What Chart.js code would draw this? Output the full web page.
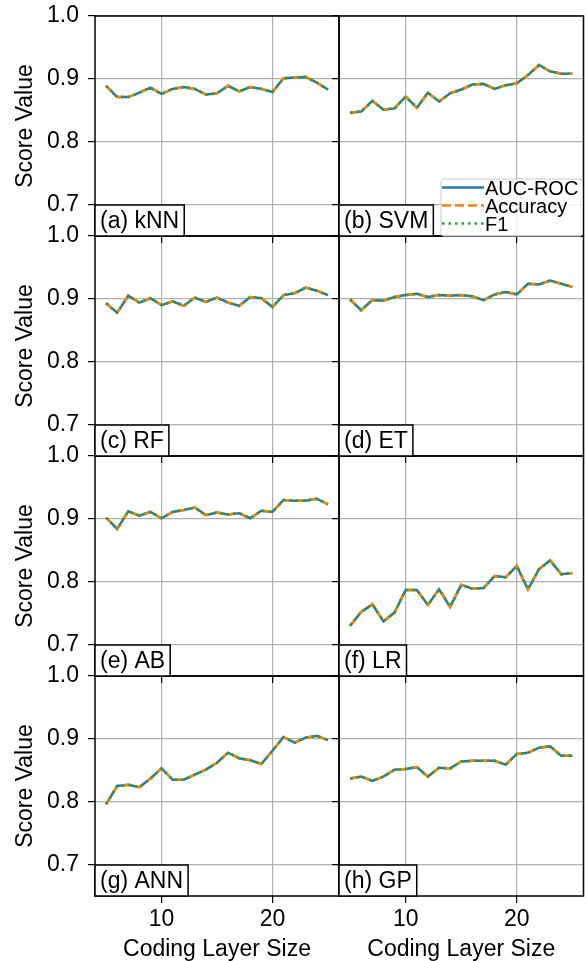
<!DOCTYPE html>
<html>
<head>
<meta charset="utf-8">
<script src="https://cdn.jsdelivr.net/npm/chart.js@4.4.1/dist/chart.umd.min.js"></script>
<style>
  html, body { margin: 0; padding: 0; background: #fff; }
  #fig { position: relative; width: 586px; height: 961px; overflow: hidden; }
  #fig canvas { position: absolute; }
</style>
</head>
<body>
<div id="fig"></div>
<script>
// Coding layer sizes (x axis) and tick values
const layerSizes = [5, 6, 7, 8, 9, 10, 11, 12, 13, 14, 15, 16, 17, 18, 19, 20, 21, 22, 23, 24, 25];
const xTicks = [10, 20];
const yTicks = [0.7, 0.8, 0.9, 1.0];
const metricNames = ['AUC-ROC', 'Accuracy', 'F1'];

// Scores per classifier (AUC-ROC, accuracy and F1 coincide)
const knnScores = [0.889, 0.871, 0.871, 0.878, 0.886, 0.876, 0.884, 0.887, 0.884, 0.875, 0.877, 0.889, 0.880, 0.887, 0.884, 0.879, 0.901, 0.902, 0.903, 0.894, 0.883];
const svmScores = [0.846, 0.848, 0.865, 0.851, 0.853, 0.872, 0.854, 0.878, 0.864, 0.877, 0.883, 0.891, 0.892, 0.884, 0.890, 0.893, 0.906, 0.922, 0.912, 0.908, 0.908];
const rfScores  = [0.893, 0.878, 0.905, 0.894, 0.901, 0.890, 0.896, 0.889, 0.902, 0.895, 0.902, 0.894, 0.889, 0.903, 0.901, 0.887, 0.906, 0.909, 0.918, 0.913, 0.906];
const etScores  = [0.899, 0.882, 0.898, 0.897, 0.903, 0.906, 0.908, 0.903, 0.906, 0.905, 0.906, 0.904, 0.898, 0.907, 0.911, 0.907, 0.924, 0.923, 0.929, 0.924, 0.919];
const abScores  = [0.902, 0.884, 0.912, 0.905, 0.911, 0.901, 0.911, 0.914, 0.918, 0.906, 0.910, 0.907, 0.909, 0.901, 0.913, 0.911, 0.930, 0.929, 0.929, 0.932, 0.923];
const lrScores  = [0.730, 0.752, 0.764, 0.737, 0.751, 0.787, 0.787, 0.763, 0.788, 0.760, 0.795, 0.789, 0.790, 0.809, 0.807, 0.825, 0.788, 0.820, 0.834, 0.812, 0.814];
const annScores = [0.796, 0.825, 0.827, 0.823, 0.837, 0.853, 0.835, 0.835, 0.843, 0.851, 0.862, 0.878, 0.869, 0.866, 0.860, 0.881, 0.903, 0.894, 0.902, 0.905, 0.898];
const gpScores  = [0.837, 0.840, 0.833, 0.840, 0.851, 0.852, 0.855, 0.840, 0.854, 0.853, 0.864, 0.865, 0.865, 0.865, 0.859, 0.876, 0.878, 0.886, 0.888, 0.873, 0.873];

const panelLabels = ['(a) kNN', '(b) SVM', '(c) RF', '(d) ET', '(e) AB', '(f) LR', '(g) ANN', '(h) GP'];
const panelScores = [knnScores, svmScores, rfScores, etScores, abScores, lrScores, annScores, gpScores];

const FONT = '"Liberation Sans", Arial, Helvetica, sans-serif';
Chart.defaults.font.family = FONT;
Chart.defaults.color = '#000';

// Figure layout
const ROW_TOPS = [16, 236, 456, 676];
const ROW_H = 220;
const FIG_H = 961;

const lineStyles = [
  { color: '#1f77b4', dash: [], order: 3 },
  { color: '#ff7f0e', dash: [9, 4], order: 2 },
  { color: '#2ca02c', dash: [2.5, 4], order: 1 }
];

// Black frame around the plot area plus the "(x) NAME" tag in the lower-left corner
const panelFrame = {
  id: 'panelFrame',
  afterDatasetsDraw(chart, args, opts) {
    const { ctx, chartArea: a } = chart;
    ctx.save();
    ctx.strokeStyle = '#000';
    ctx.lineWidth = 1.5;
    ctx.strokeRect(a.left, a.top, a.right - a.left, a.bottom - a.top);

    ctx.font = '23px ' + FONT;
    const w = ctx.measureText(opts.text).width + 10;
    const h = 31;
    ctx.fillStyle = '#fff';
    ctx.fillRect(a.left, a.bottom - h, w, h);
    ctx.strokeRect(a.left, a.bottom - h, w, h);
    ctx.fillStyle = '#000';
    ctx.textBaseline = 'middle';
    ctx.fillText(opts.text, a.left + 5, a.bottom - h / 2 + 1);
    ctx.restore();
  }
};

// Legend box drawn only on the SVM panel
const metricLegend = {
  id: 'metricLegend',
  afterDraw(chart) {
    const { ctx, chartArea: a } = chart;
    const x0 = a.left + 102, y0 = a.bottom - 57;
    const x1 = a.right - 1, y1 = a.bottom;
    ctx.save();
    ctx.fillStyle = 'rgba(255,255,255,0.8)';
    ctx.strokeStyle = 'rgba(204,204,204,1)';
    ctx.lineWidth = 1;
    ctx.beginPath();
    ctx.roundRect(x0, y0, x1 - x0, y1 - y0, 3);
    ctx.fill();
    ctx.stroke();

    ctx.font = '20px ' + FONT;
    ctx.textBaseline = 'middle';
    chart.data.datasets.forEach((ds, i) => {
      const y = y0 + 9.5 + i * 18;
      ctx.strokeStyle = ds.borderColor;
      ctx.lineWidth = ds.borderWidth;
      ctx.setLineDash(ds.borderDash);
      ctx.beginPath();
      ctx.moveTo(x0 + 1, y - 1);
      ctx.lineTo(x0 + 43, y - 1);
      ctx.stroke();
      ctx.setLineDash([]);
      ctx.fillStyle = '#000';
      ctx.fillText(ds.label, x0 + 44, y + 1);
    });
    ctx.restore();
  }
};

// Fix an axis to a given thickness and drop the extra padding Chart.js
// reserves for labels sitting on the plot edges
function fixAxis(size, horizontal) {
  return s => {
    if (horizontal) s.height = size; else s.width = size;
    s.paddingTop = 0;
    s.paddingBottom = 0;
    s.paddingLeft = 0;
    s.paddingRight = 0;
  };
}

function makePanel(index) {
  const row = Math.floor(index / 2);
  const col = index % 2;
  const isLeft = col === 0;
  const isBottom = row === 3;

  const top = ROW_TOPS[row];
  const canvasTop = top - 14;
  const canvasBottom = isBottom ? FIG_H : top + ROW_H + 9;
  const canvasLeft = isLeft ? 0 : 330;
  const canvasWidth = isLeft ? 342 : 256;

  const canvas = document.createElement('canvas');
  canvas.width = canvasWidth;
  canvas.height = canvasBottom - canvasTop;
  canvas.style.left = canvasLeft + 'px';
  canvas.style.top = canvasTop + 'px';
  canvas.style.zIndex = (4 - row) * 2 + col;
  document.getElementById('fig').appendChild(canvas);

  const yAxisWidth = isLeft ? 95 : 9;
  const xAxisHeight = isBottom ? FIG_H - (top + ROW_H) : 9;
  const scores = panelScores[index];

  const datasets = metricNames.map((name, m) => ({
    label: name,
    data: layerSizes.map((s, i) => ({ x: s, y: scores[i] })),
    borderColor: lineStyles[m].color,
    borderDash: lineStyles[m].dash,
    borderWidth: 2.5,
    order: lineStyles[m].order,
    pointRadius: 0,
    tension: 0,
    fill: false
  }));

  const plugins = [panelFrame];
  if (index === 1) plugins.push(metricLegend);

  return new Chart(canvas, {
    type: 'line',
    data: { datasets },
    plugins,
    options: {
      responsive: false,
      animation: false,
      devicePixelRatio: 1,
      layout: { padding: { top: 14, right: isLeft ? 3 : 2.5, bottom: 0, left: 0 } },
      plugins: {
        legend: { display: false },
        tooltip: { enabled: false },
        panelFrame: { text: panelLabels[index] }
      },
      scales: {
        x: {
          type: 'linear',
          min: 4,
          max: 26,
          afterBuildTicks: s => { s.ticks = xTicks.map(v => ({ value: v })); },
          afterFit: fixAxis(xAxisHeight, true),
          border: { display: false },
          grid: {
            color: '#b0b0b0',
            lineWidth: 1.2,
            drawTicks: true,
            tickLength: 7,
            tickColor: '#000',
            tickWidth: 1.2
          },
          ticks: {
            display: isBottom,
            padding: 3,
            maxRotation: 0,
            autoSkip: false,
            font: { size: 23 },
            color: '#000'
          },
          title: {
            display: isBottom,
            text: 'Coding Layer Size',
            font: { size: 23, lineHeight: 1 },
            color: '#000',
            padding: { top: 0, bottom: 0 }
          }
        },
        y: {
          type: 'linear',
          min: 0.65,
          max: 1.0,
          afterBuildTicks: s => { s.ticks = yTicks.map(v => ({ value: v })); },
          afterFit: fixAxis(yAxisWidth, false),
          border: { display: false },
          grid: {
            color: '#b0b0b0',
            lineWidth: 1.2,
            drawTicks: true,
            tickLength: 7,
            tickColor: '#000',
            tickWidth: 1.2
          },
          ticks: {
            display: isLeft,
            padding: 9,
            autoSkip: false,
            font: { size: 23 },
            color: '#000',
            callback: v => v.toFixed(1)
          },
          title: {
            display: isLeft,
            text: 'Score Value',
            font: { size: 23, lineHeight: 1.2 },
            color: '#000',
            padding: { top: 12, bottom: 0 }
          }
        }
      }
    }
  });
}

panelLabels.forEach((_, i) => makePanel(i));
</script>
</body>
</html>
